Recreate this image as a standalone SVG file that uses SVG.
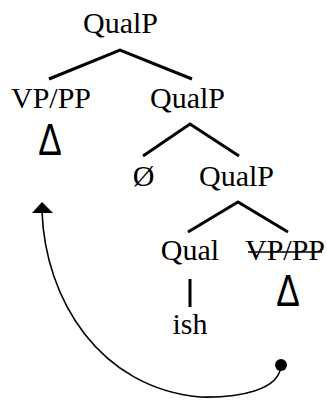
<svg xmlns="http://www.w3.org/2000/svg" width="327" height="403" viewBox="0 0 327 403">
<style>
text{font-family:"Liberation Serif","Times New Roman",serif;font-size:30px;fill:#000;text-anchor:middle}
.tri{font-family:"Liberation Sans",Arial,sans-serif;font-size:44px}
.br{stroke:#000;stroke-width:3;fill:none}
.mv{stroke:#000;stroke-width:1.6;fill:none}
</style>
<rect width="327" height="403" fill="#fff"/>
<g id="connectors">
<path class="br" d="M49,79 L120,50 L192,79"/>
<path class="br" d="M143,156 L190,124 L239,156"/>
<path class="br" d="M188,232 L238,202 L288,232"/>
<path class="br" d="M190,279 L190,307"/>
<path class="mv" d="M281,365 C280,390 240,398 200,397 C100,388 45,300 42,211"/>
<polygon points="42,202 32,213 53,213" fill="#000"/>
<circle cx="281" cy="365" r="6" fill="#000"/>
</g>
<g id="n-qualp1"><text x="120.5" y="33">QualP</text></g>
<g id="n-vppp"><text x="51" y="108">VP/PP</text></g>
<g id="n-tri1"><text class="tri" transform="translate(50,155) scale(0.8,1)">Δ</text></g>
<g id="n-qualp2"><text x="187.5" y="108">QualP</text></g>
<g id="n-null"><text x="143.5" y="186">Ø</text></g>
<g id="n-qualp3"><text x="236.5" y="186">QualP</text></g>
<g id="n-qual"><text x="190" y="260">Qual</text></g>
<g id="n-vppp2"><text x="285" y="260">VP/PP</text><line x1="248" y1="252" x2="322" y2="252" stroke="#000" stroke-width="1.5"/></g>
<g id="n-tri2"><text class="tri" transform="translate(288,306) scale(0.8,1)">Δ</text></g>
<g id="n-ish"><text x="190" y="334">ish</text></g>
</svg>
